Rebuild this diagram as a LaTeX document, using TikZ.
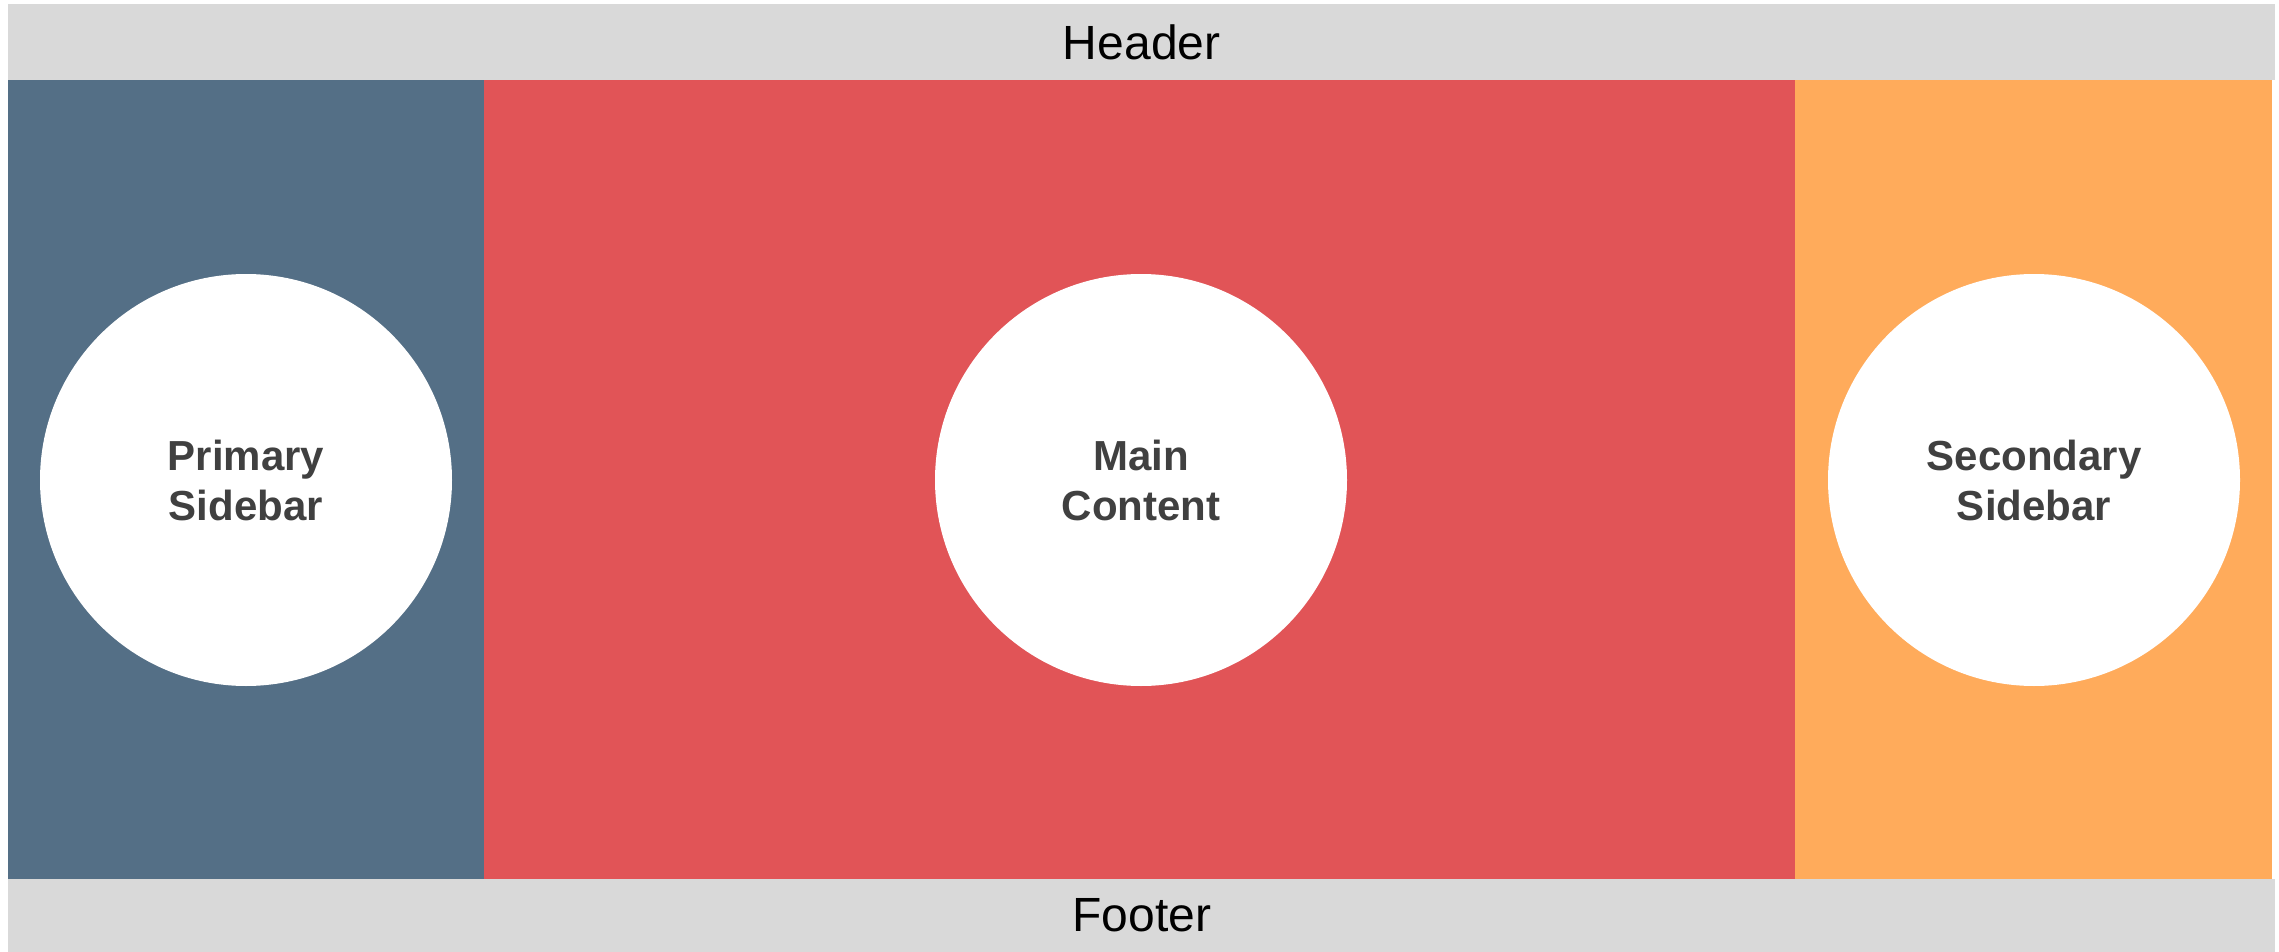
\documentclass[tikz,border=0pt]{standalone}
\usepackage{fontspec}
\setmainfont{Liberation Sans}
\definecolor{bandgray}{HTML}{D9D9D9}
\definecolor{primblue}{HTML}{546F86}
\definecolor{mainred}{HTML}{E15457}
\definecolor{secorange}{HTML}{FFAB5B}
\definecolor{labelgray}{HTML}{404040}
\begin{document}
\begin{tikzpicture}[x=1pt,y=-1pt,
  band/.style={fill=bandgray, draw=none, inner sep=0pt, anchor=north west,
    font=\fontsize{48}{58}\selectfont, text=black},
  column/.style={draw=none, inner sep=0pt, anchor=north west, minimum height=799pt},
  disc/.style={circle, fill=white, draw=none, inner sep=0pt, minimum size=412pt,
    align=center, text=labelgray, font=\fontsize{42}{50}\selectfont\bfseries}
]
\useasboundingbox (0,0) rectangle (2279,952);
\node[band, minimum width=2267pt, minimum height=76pt] (header) at (8,4) {Header};
\node[column, fill=primblue, minimum width=476pt] (primary) at (8,80) {};
\node[column, fill=mainred, minimum width=1311pt] (main) at (484,80) {};
\node[column, fill=secorange, minimum width=477pt] (secondary) at (1795,80) {};
\node[band, minimum width=2267pt, minimum height=73pt] (footer) at (8,879) {Footer};
\node[disc] (primc) at (246,480) {Primary\\Sidebar};
\node[disc] (mainc) at (1141,480) {Main\\Content};
\node[disc] (secc) at (2034,480) {Secondary\\Sidebar};
\end{tikzpicture}
\end{document}
